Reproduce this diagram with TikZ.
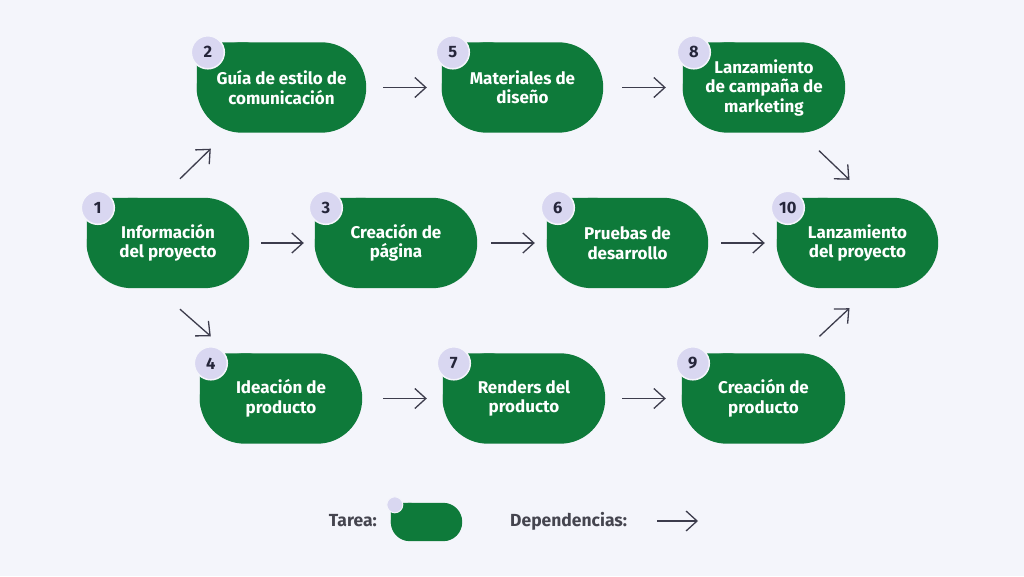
\documentclass[tikz,border=0pt]{standalone}
\usepackage{fontspec}
\setmainfont{Fira Sans}
\usetikzlibrary{arrows.meta,calc,backgrounds}
\definecolor{bgc}{HTML}{F4F5FB}
\definecolor{tg}{HTML}{0E7A3A}
\definecolor{bdg}{HTML}{D9D7F1}
\definecolor{arr}{HTML}{3C3C4C}
\definecolor{lbl}{HTML}{45454F}
\definecolor{num}{HTML}{25253A}
\tikzset{
  task/.style={rectangle, minimum height=90pt, minimum width=162pt, inner sep=0pt,
    text=white, align=center, font=\bfseries\fontsize{17}{19.5}\selectfont},
  badge/.style={circle, fill=bdg, draw=bgc, line width=1.5pt, minimum size=33pt,
    inner sep=0pt, text=num, font=\bfseries\fontsize{16.5}{18}\selectfont},
  lbadge/.style={circle, fill=bdg, draw=bgc, line width=1pt, minimum size=16pt, inner sep=0pt},
  dep/.style={draw=arr, line width=1.3pt, -{Straight Barb[length=11pt,width=20pt]}},
  legendtext/.style={text=lbl, font=\bfseries\fontsize{17.5}{18}\selectfont, inner sep=0pt}
}
\newcommand{\taskshape}[3]{% name, big radius, small radius
  \begin{scope}[on background layer]
    \fill[tg, rounded corners=#2] (#1.south west) rectangle (#1.north east);
    \fill[tg, rounded corners=#3] (#1.north west) rectangle ($(#1.north west)+(1.33*#2,-1.33*#2)$);
  \end{scope}}
\begin{document}
\begin{tikzpicture}[x=1pt,y=1pt]
  \begin{scope}[on background layer]
    \fill[bgc] (0,0) rectangle (1024,576);
  \end{scope}
  \useasboundingbox (0,0) rectangle (1024,576);

  % tasks
  \node[task] (n1) at (168,333) {Información\\del proyecto};
  \node[task, minimum width=169pt] (n2) at (281.5,488.5) {Guía de estilo de\\comunicación};
  \node[task] (n3) at (396,333) {Creación de\\página};
  \node[task] (n4) at (281,177.5) {Ideación de\\producto};
  \node[task, minimum width=161pt] (n5) at (522.5,488.5) {Materiales de\\diseño};
  \node[task, minimum width=161pt] (n6) at (627.5,333) {Pruebas de\\desarrollo};
  \node[task] (n7) at (524,177.5) {Renders del\\producto};
  \node[task] (n8) at (764,488.5) {Lanzamiento\\de campaña de\\marketing};
  \node[task, minimum width=163pt] (n9) at (763.5,177.5) {Creación de\\producto};
  \node[task, minimum width=161pt] (n10) at (857.5,333) {Lanzamiento\\del proyecto};

  \foreach \n in {n1,n2,n3,n4,n5,n6,n7,n8,n9,n10} {\taskshape{\n}{45}{10}}

  % badges
  \foreach \n/\k in {n1/1,n2/2,n3/3,n4/4,n5/5,n6/6,n7/7,n8/8,n9/9,n10/10}
    \node[badge] (b\k) at ($(\n.north west)+(11,-10)$) {\k};

  % dependencies (horizontal)
  \draw[dep, shorten <=12pt, shorten >=11pt] (n1) -- (n3);
  \draw[dep, shorten <=17pt, shorten >=15pt] (n2) -- (n5);
  \draw[dep, shorten <=19pt, shorten >=17pt] (n5) -- (n8);
  \draw[dep, shorten <=14pt, shorten >=12pt] (n3) -- (n6);
  \draw[dep, shorten <=13pt, shorten >=12pt] (n6) -- (n10);
  \draw[dep, shorten <=21pt, shorten >=16pt] (n4) -- (n7);
  \draw[dep, shorten <=17pt, shorten >=16pt] (n7) -- (n9);

  % dependencies (diagonal)
  \coordinate (d12a) at ($(n1.north)+(12,19)$);
  \coordinate (d12b) at ($(n2.south west)+(14,-16)$);
  \draw[dep] (d12a) -- (d12b);
  \coordinate (d14a) at ($(n1.south)+(12,-21)$);
  \coordinate (d14b) at ($(n4.north west)+(11,17)$);
  \draw[dep] (d14a) -- (d14b);
  \coordinate (d810a) at ($(n8.south)+(55,-18)$);
  \coordinate (d810b) at ($(n10.north)+(-8,18)$);
  \draw[dep] (d810a) -- (d810b);
  \coordinate (d910a) at ($(n9.north)+(56,17)$);
  \coordinate (d910b) at ($(n10.south)+(-8,-20)$);
  \draw[dep] (d910a) -- (d910b);

  % legend
  \node[legendtext, anchor=east] (lt) at (377,55) {Tarea:};
  \node[rectangle, minimum width=71pt, minimum height=38pt, inner sep=0pt] (lp) at (426.5,54) {};
  \taskshape{lp}{19}{5}
  \node[lbadge] (lb) at ($(lp.north west)+(4,-2)$) {};
  \node[legendtext, anchor=west] (ld) at (510,55) {Dependencias:};
  \coordinate (la) at (657,55);
  \coordinate (lae) at (698,55);
  \draw[dep] (la) -- (lae);
\end{tikzpicture}
\end{document}
